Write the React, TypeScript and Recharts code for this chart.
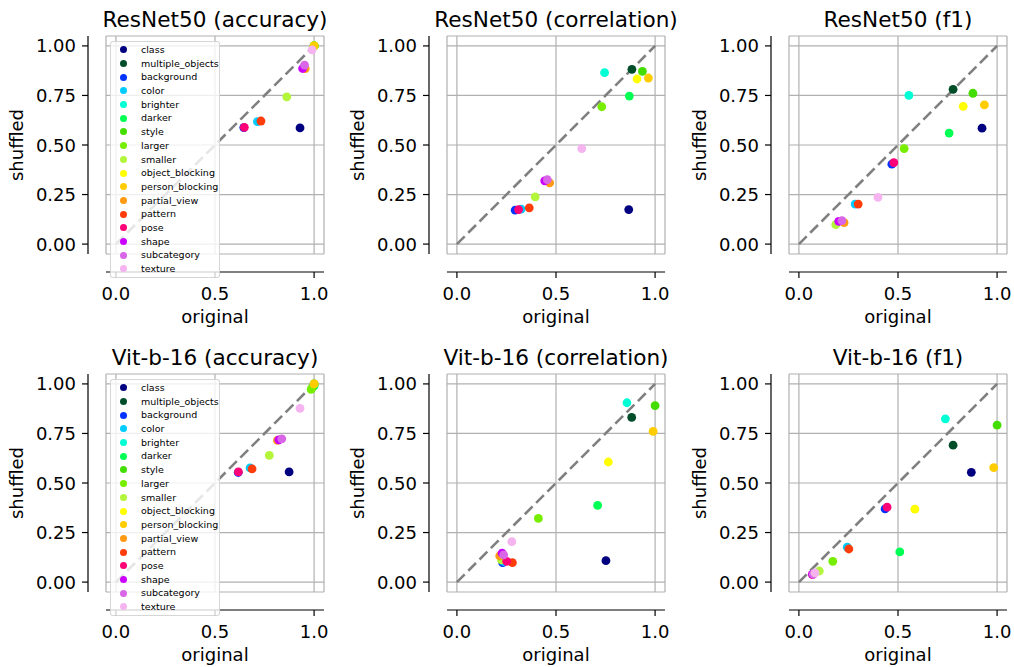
import React from 'react';
import { ScatterChart, Scatter, XAxis, YAxis, CartesianGrid, ReferenceLine, Legend } from 'recharts';

const categories = [
  'class', 'multiple_objects', 'background', 'color', 'brighter', 'darker', 'style', 'larger',
  'smaller', 'object_blocking', 'person_blocking', 'partial_view', 'pattern', 'pose', 'shape',
  'subcategory', 'texture',
];
const colors = [
  '#000080', '#004d2a', '#0033ff', '#00ccff', '#00ffd5', '#00ff55', '#44dd00', '#77ee00',
  '#b3f53a', '#ffff00', '#ffcc00', '#ff9a12', '#ff3c0a', '#ff0077', '#cc00ff', '#d966e6',
  '#f5b3f0',
];

const xTicks = [0, 0.5, 1];
const yTicks = [0, 0.25, 0.5, 0.75, 1];

// values in category order
const resnetAccOrig = [0.929, 1.0, 0.645, 0.714, 1.0, 1.0, 1.0, 1.0, 0.862, 1.0, 1.0, 0.955, 0.732, 0.648, 0.942, 0.952, 0.99];
const resnetAccShuf = [0.586, 1.0, 0.588, 0.618, 1.0, 1.0, 1.0, 1.0, 0.743, 1.0, 1.0, 0.885, 0.621, 0.589, 0.886, 0.903, 0.98];

const resnetCorrOrig = [0.867, 0.883, 0.294, 0.324, 0.745, 0.870, 0.936, 0.731, 0.395, 0.909, 0.966, 0.468, 0.365, 0.311, 0.443, 0.456, 0.630];
const resnetCorrShuf = [0.174, 0.882, 0.171, 0.176, 0.865, 0.747, 0.872, 0.693, 0.238, 0.833, 0.838, 0.309, 0.183, 0.174, 0.319, 0.325, 0.482];

const resnetF1Orig = [0.924, 0.778, 0.469, 0.284, 0.555, 0.758, 0.878, 0.531, 0.186, 0.829, 0.936, 0.228, 0.299, 0.479, 0.201, 0.217, 0.399];
const resnetF1Shuf = [0.585, 0.781, 0.403, 0.202, 0.750, 0.560, 0.761, 0.482, 0.098, 0.695, 0.702, 0.108, 0.202, 0.411, 0.115, 0.118, 0.236];

const vitAccOrig = [0.874, 1.0, 0.617, 0.677, 1.0, 1.0, 0.99, 0.985, 0.774, 1.0, 1.0, 0.815, 0.687, 0.618, 0.822, 0.837, 0.929];
const vitAccShuf = [0.556, 1.0, 0.553, 0.576, 1.0, 0.99, 0.98, 0.972, 0.639, 1.0, 1.0, 0.715, 0.571, 0.556, 0.718, 0.723, 0.877];

const vitCorrOrig = [0.752, 0.882, 0.231, 0.236, 0.858, 0.710, 1.0, 0.411, 0.225, 0.764, 0.990, 0.216, 0.280, 0.251, 0.228, 0.236, 0.277];
const vitCorrShuf = [0.108, 0.831, 0.098, 0.104, 0.905, 0.387, 0.890, 0.321, 0.112, 0.606, 0.760, 0.132, 0.098, 0.105, 0.146, 0.137, 0.204];

const vitF1Orig = [0.870, 0.778, 0.435, 0.244, 0.739, 0.509, 1.0, 0.171, 0.103, 0.585, 0.983, 0.068, 0.252, 0.445, 0.068, 0.073, 0.081];
const vitF1Shuf = [0.554, 0.691, 0.369, 0.176, 0.824, 0.152, 0.792, 0.105, 0.056, 0.368, 0.578, 0.038, 0.167, 0.378, 0.039, 0.040, 0.046];

const panels = [
  { title: 'ResNet50 (accuracy)', orig: resnetAccOrig, shuf: resnetAccShuf, legend: true },
  { title: 'ResNet50 (correlation)', orig: resnetCorrOrig, shuf: resnetCorrShuf, legend: false },
  { title: 'ResNet50 (f1)', orig: resnetF1Orig, shuf: resnetF1Shuf, legend: false },
  { title: 'Vit-b-16 (accuracy)', orig: vitAccOrig, shuf: vitAccShuf, legend: true },
  { title: 'Vit-b-16 (correlation)', orig: vitCorrOrig, shuf: vitCorrShuf, legend: false },
  { title: 'Vit-b-16 (f1)', orig: vitF1Orig, shuf: vitF1Shuf, legend: false },
];

const FONT = 'DejaVu Sans, Verdana, sans-serif';
const PLOT = 218;
const ML = 106;
const MT = 36;
const colLeft = [106, 447, 789];
const rowTop = [36, 374];
const SPINE_GAP = 18;
const DOMAIN: [number, number] = [-0.05, 1.05];
const spineOff = DOMAIN[0] - (SPINE_GAP * 1.1) / PLOT;

const YTick = ({ x, y, payload }: any) => (
  <g>
    <line x1={x - SPINE_GAP - 6} x2={x - SPINE_GAP} y1={y} y2={y} stroke="#000" strokeWidth={1.2} />
    <text x={x - SPINE_GAP - 12} y={y + 6.5} textAnchor="end" fontSize={18} fontFamily={FONT} fill="#000">
      {Number(payload.value).toFixed(2)}
    </text>
  </g>
);

const XTick = ({ x, y, payload }: any) => (
  <g>
    <line x1={x} x2={x} y1={y + SPINE_GAP} y2={y + SPINE_GAP + 6} stroke="#000" strokeWidth={1.2} />
    <text x={x} y={y + 46} textAnchor="middle" fontSize={18} fontFamily={FONT} fill="#000">
      {Number(payload.value).toFixed(1)}
    </text>
  </g>
);

const LegendBox = ({ payload }: any) => {
  const items = [...(payload || [])].sort(
    (a: any, b: any) => categories.indexOf(a.value) - categories.indexOf(b.value)
  );
  return (
    <div
      style={{
        width: 110,
        height: 237,
        boxSizing: 'border-box',
        background: 'rgba(255,255,255,0.8)',
        border: '1px solid rgba(204,204,204,0.8)',
        borderRadius: 3,
        paddingTop: 1,
        fontFamily: FONT,
        fontSize: 9.5,
        color: '#000',
      }}
    >
      {items.map((e: any) => (
        <div key={e.value} style={{ height: 13.7, display: 'flex', alignItems: 'center' }}>
          <span
            style={{
              display: 'inline-block',
              width: 7,
              height: 7,
              borderRadius: '50%',
              background: e.color,
              marginLeft: 9,
              flexShrink: 0,
            }}
          />
          <span style={{ marginLeft: 14, whiteSpace: 'nowrap', lineHeight: '13.7px' }}>{e.value}</span>
        </div>
      ))}
    </div>
  );
};

const Dot = (p: any) => <circle cx={p.cx} cy={p.cy} r={4.4} fill={p.fill} />;

function Panel({ orig, shuf, legend, left, top }: any) {
  return (
    <div style={{ position: 'absolute', left: left - ML, top: top - MT }}>
      <ScatterChart width={ML + PLOT + 8} height={MT + PLOT + 80} margin={{ top: MT, right: 8, left: 0, bottom: 0 }}>
        <CartesianGrid stroke="#b0b0b0" strokeWidth={1.2} />
        <XAxis
          type="number"
          dataKey="x"
          domain={DOMAIN}
          ticks={xTicks}
          interval={0}
          height={80}
          axisLine={false}
          tickLine={false}
          tickSize={0}
          tickMargin={0}
          tick={<XTick />}
        />
        <YAxis
          type="number"
          dataKey="y"
          domain={DOMAIN}
          ticks={yTicks}
          interval={0}
          width={ML}
          axisLine={false}
          tickLine={false}
          tickSize={0}
          tickMargin={0}
          tick={<YTick />}
        />
        <ReferenceLine
          segment={[{ x: DOMAIN[0], y: spineOff }, { x: DOMAIN[1], y: spineOff }]}
          stroke="#000"
          strokeWidth={1.2}
          ifOverflow="visible"
        />
        <ReferenceLine
          segment={[{ x: spineOff, y: DOMAIN[0] }, { x: spineOff, y: DOMAIN[1] }]}
          stroke="#000"
          strokeWidth={1.2}
          ifOverflow="visible"
        />
        <ReferenceLine
          segment={[{ x: 0, y: 0 }, { x: 1, y: 1 }]}
          stroke="#808080"
          strokeWidth={2.6}
          strokeDasharray="11 5"
          ifOverflow="visible"
        />
        {categories.map((c, i) => (
          <Scatter
            key={c}
            name={c}
            data={[{ x: orig[i], y: shuf[i] }]}
            fill={colors[i]}
            shape={<Dot />}
            isAnimationActive={false}
          />
        ))}
        {legend && (
          <Legend
            layout="vertical"
            align="center"
            verticalAlign="middle"
            content={<LegendBox />}
            wrapperStyle={{ left: 110, top: 41, width: 110, height: 237, margin: 0 }}
          />
        )}
      </ScatterChart>
    </div>
  );
}

export default function App() {
  return (
    <div
      style={{
        position: 'absolute',
        left: 0,
        top: 0,
        width: 1014,
        height: 667,
        background: '#fff',
        overflow: 'hidden',
      }}
    >
      {panels.map((p, k) => (
        <Panel key={p.title} {...p} left={colLeft[k % 3]} top={rowTop[Math.floor(k / 3)]} />
      ))}
      <svg width={1014} height={667} style={{ position: 'absolute', left: 0, top: 0, pointerEvents: 'none' }}>
        {panels.map((p, k) => {
          const l = colLeft[k % 3];
          const t = rowTop[Math.floor(k / 3)];
          const cx = l + PLOT / 2;
          const cy = t + PLOT / 2;
          return (
            <g key={p.title} fontFamily={FONT} fill="#000">
              <text x={cx} y={t - 9} textAnchor="middle" fontSize={21.6}>
                {p.title}
              </text>
              <text x={cx} y={t + PLOT + 69} textAnchor="middle" fontSize={18}>
                original
              </text>
              <text x={l - 83} y={cy} textAnchor="middle" fontSize={18} transform={`rotate(-90, ${l - 83}, ${cy})`}>
                shuffled
              </text>
            </g>
          );
        })}
      </svg>
    </div>
  );
}
